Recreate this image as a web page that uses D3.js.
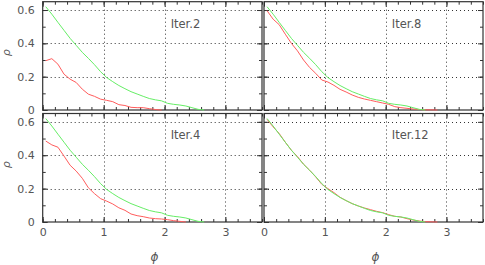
<!DOCTYPE html>
<html><head><meta charset="utf-8">
<script src="https://cdn.jsdelivr.net/npm/d3@7"></script>
<style>body{margin:0;background:#fff}svg{display:block}</style>
</head><body>
<script>
const phiGreen = [0.05,0.15,0.25,0.35,0.45,0.55,0.65,0.75,0.85,0.95,1.05,1.15,1.25,1.35,1.45,1.55,1.65,1.75,1.85,1.95,2.05,2.15,2.25,2.35,2.45,2.55,2.65];
const rhoGreen = [0.620,0.575,0.526,0.478,0.430,0.388,0.346,0.310,0.272,0.230,0.195,0.170,0.147,0.128,0.110,0.096,0.082,0.069,0.061,0.055,0.040,0.034,0.030,0.024,0.014,0.004,0.000];

const phiIter2 = [0.05,0.15,0.25,0.35,0.45,0.55,0.65,0.75,0.85,0.95,1.05,1.15,1.25,1.35,1.45,1.55,1.65,1.75,1.85,1.95];
const rhoIter2 = [0.296,0.308,0.275,0.215,0.185,0.165,0.125,0.095,0.082,0.065,0.058,0.050,0.032,0.027,0.016,0.014,0.014,0.008,0.003,0.000];

const phiIter4 = [0.05,0.15,0.25,0.35,0.45,0.55,0.65,0.75,0.85,0.95,1.05,1.15,1.25,1.35,1.45,1.55,1.65,1.75,1.85,1.95,2.05,2.15,2.25,2.35];
const rhoIter4 = [0.485,0.462,0.448,0.395,0.340,0.305,0.262,0.205,0.170,0.140,0.125,0.108,0.085,0.070,0.048,0.038,0.032,0.024,0.020,0.018,0.014,0.008,0.004,0.000];

const phiIter8 = [0.05,0.15,0.25,0.35,0.45,0.55,0.65,0.75,0.85,0.95,1.05,1.15,1.25,1.35,1.45,1.55,1.65,1.75,1.85,1.95,2.05,2.15,2.25,2.35,2.45,2.55,2.65,2.75,2.85];
const rhoIter8 = [0.596,0.545,0.512,0.455,0.400,0.355,0.300,0.255,0.220,0.180,0.168,0.148,0.124,0.108,0.090,0.076,0.066,0.058,0.050,0.042,0.034,0.020,0.014,0.010,0.006,0.003,0.001,0.001,0.000];

const phiIter12 = [0.05,0.15,0.25,0.35,0.45,0.55,0.65,0.75,0.85,0.95,1.05,1.15,1.25,1.35,1.45,1.55,1.65,1.75,1.85,1.95,2.05,2.15,2.25,2.35,2.45,2.55,2.65,2.75,2.85];
const rhoIter12 = [0.615,0.570,0.530,0.478,0.430,0.392,0.346,0.310,0.270,0.226,0.200,0.176,0.148,0.128,0.110,0.096,0.084,0.074,0.064,0.056,0.044,0.034,0.030,0.020,0.012,0.006,0.002,0.001,0.000];

const panelLabels = ["Iter.2","Iter.8","Iter.4","Iter.12"];
const xTicks = [0,1,2,3];
const yTicks = [0,0.2,0.4,0.6];
const yTickLabels = ["0","0.2","0.4","0.6"];

const W = 485, H = 265;
const svg = d3.select("body").append("svg").attr("width",W).attr("height",H);

const cols = [[42.7,262],[264,483]];
const rows = [[1.7,110],[113.5,222]];
const series = [[phiIter2,rhoIter2],[phiIter8,rhoIter8],[phiIter4,rhoIter4],[phiIter12,rhoIter12]];
const axisCol = "#333", txtCol = "#555";
const font = "'DejaVu Sans', sans-serif";

function zip(a,b){return a.map((v,i)=>[v,b[i]]);}

for (let r=0;r<2;r++) for (let c=0;c<2;c++){
  const idx = r*2+c;
  const x = d3.scaleLinear().domain([0,3.6]).range(cols[c]);
  const y = d3.scaleLinear().domain([0,0.65]).range([rows[r][1],rows[r][0]]);
  const g = svg.append("g");
  // grid
  g.selectAll(".gx").data([1,2,3]).enter().append("line")
    .attr("x1",d=>Math.round(x(d))+0.5).attr("x2",d=>Math.round(x(d))+0.5)
    .attr("y1",y(0.65)).attr("y2",y(0))
    .attr("stroke",axisCol).attr("stroke-width",1).attr("stroke-dasharray","1,3");
  g.selectAll(".gy").data([0.2,0.4,0.6]).enter().append("line")
    .attr("y1",d=>Math.round(y(d))+0.5).attr("y2",d=>Math.round(y(d))+0.5)
    .attr("x1",x(0)).attr("x2",x(3.6))
    .attr("stroke",axisCol).attr("stroke-width",1).attr("stroke-dasharray","1,3");
  // axes with inward ticks
  const xMinor = d3.range(0,3.61,0.2);
  const yMinor = d3.range(0,0.651,0.1);
  const mk = (axisFn, scale, vals, size) => axisFn(scale).tickValues(vals).tickSize(size).tickFormat("");
  const addAxis = (gen, tr) => {
    const a = g.append("g").attr("transform",tr).call(gen);
    a.select(".domain").remove();
    a.selectAll("line").attr("stroke",axisCol);
    return a;
  };
  addAxis(mk(d3.axisTop, x, xMinor, 3), `translate(0,${y(0)})`);
  addAxis(mk(d3.axisTop, x, xTicks, 5), `translate(0,${y(0)})`);
  addAxis(mk(d3.axisBottom, x, xMinor, 3), `translate(0,${y(0.65)})`);
  addAxis(mk(d3.axisBottom, x, xTicks, 5), `translate(0,${y(0.65)})`);
  addAxis(mk(d3.axisRight, y, yMinor, 3), `translate(${x(0)},0)`);
  addAxis(mk(d3.axisRight, y, yTicks, 5), `translate(${x(0)},0)`);
  addAxis(mk(d3.axisLeft, y, yMinor, 3), `translate(${x(3.6)},0)`);
  addAxis(mk(d3.axisLeft, y, yTicks, 5), `translate(${x(3.6)},0)`);
  // frame
  g.append("rect").attr("x",x(0)).attr("y",y(0.65)).attr("width",x(3.6)-x(0)).attr("height",y(0)-y(0.65))
    .attr("fill","none").attr("stroke",axisCol).attr("stroke-width",1.2);
  // tick labels
  if (c===0){
    const a = g.append("g").attr("transform",`translate(${x(0)},0)`)
      .call(d3.axisLeft(y).tickValues(yTicks).tickSize(0).tickPadding(8).tickFormat((d,i)=>yTickLabels[i]));
    a.select(".domain").remove();
    a.selectAll("text").attr("fill",txtCol).style("font-family",font).style("font-size","11px");
    svg.append("text").attr("transform",`translate(10,${(rows[r][0]+rows[r][1])/2 - 3}) rotate(-90)`)
      .attr("text-anchor","middle").attr("fill",txtCol).style("font-family",font).style("font-size","11px")
      .style("font-style","italic").text("ρ");
  }
  if (r===1){
    const a = g.append("g").attr("transform",`translate(0,${y(0)})`)
      .call(d3.axisBottom(x).tickValues(xTicks).tickSize(0).tickPadding(6).tickFormat(d3.format("d")));
    a.select(".domain").remove();
    a.selectAll("text").attr("fill",txtCol).style("font-family",font).style("font-size","11px");
    svg.append("text").attr("x",(cols[c][0]+cols[c][1])/2+2).attr("y",261)
      .attr("text-anchor","middle").attr("fill",txtCol).style("font-family",font).style("font-size","12px")
      .style("font-style","italic").text("ϕ");
  }
  // curves
  const line = d3.line().x(d=>x(d[0])).y(d=>y(d[1]));
  const [ph, rh] = series[idx];
  g.append("path").datum(zip(ph,rh)).attr("d",line).attr("fill","none").attr("stroke","#ff5c5c").attr("stroke-width",1);
  g.append("path").datum(zip(phiGreen,rhoGreen)).attr("d",line).attr("fill","none").attr("stroke","#66ee66").attr("stroke-width",1);
  // label
  g.append("text").attr("x",x(2.1)).attr("y",y(0.495)).attr("fill",txtCol)
    .style("font-family",font).style("font-size","11.5px").text(panelLabels[idx]);
}
</script>
</body></html>
